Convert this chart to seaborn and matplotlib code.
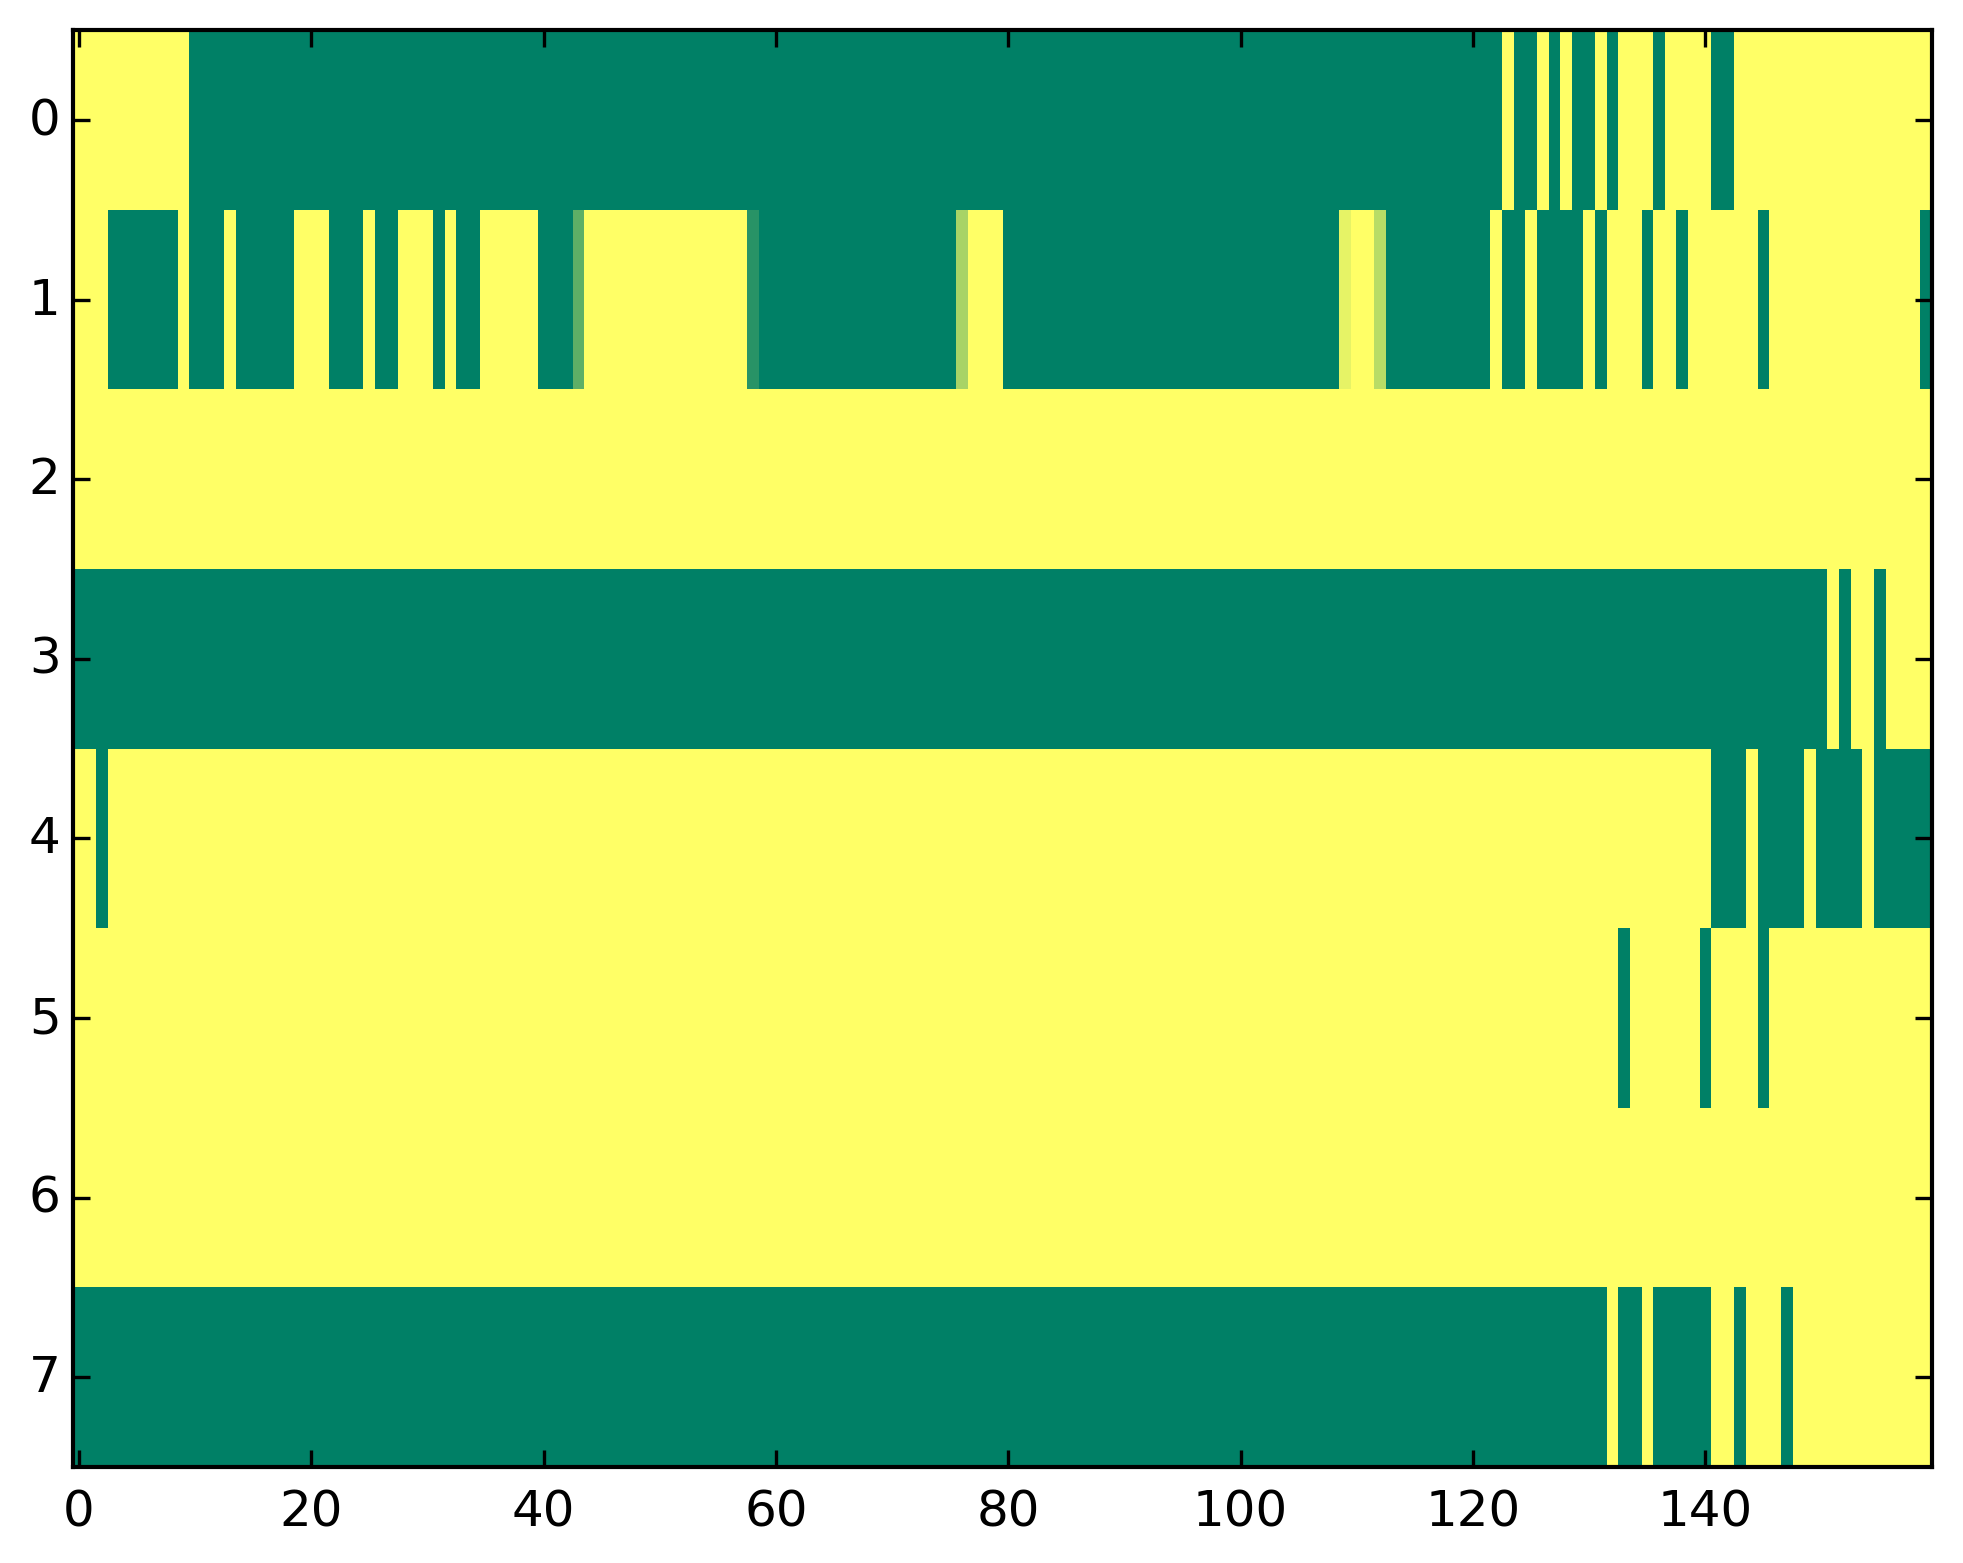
import numpy as np
import pandas as pd
import matplotlib
matplotlib.use("Agg")
import matplotlib.pyplot as plt
import seaborn as sns

# each row is stored as runs of (value, number of columns)
ROW_0 = [(1, 10), (0, 113), (1, 1), (0, 2), (1, 1), (0, 1), (1, 1), (0, 2),
         (1, 1), (0, 1), (1, 3), (0, 1), (1, 4), (0, 2), (1, 17)]
ROW_1 = [(1, 3), (0, 6), (1, 1), (0, 3), (1, 1), (0, 5), (1, 3), (0, 3), (1, 1),
         (0, 2), (1, 3), (0, 1), (1, 1), (0, 2), (1, 5), (0, 3), (0.37, 1),
         (1, 14), (0.16, 1), (0, 17), (0.66, 1), (1, 3), (0, 29), (0.9, 1),
         (1, 2), (0.72, 1), (0, 9), (1, 1), (0, 2), (1, 1), (0, 4), (1, 1),
         (0, 1), (1, 3), (0, 1), (1, 2), (0, 1), (1, 6), (0, 1), (1, 13), (0, 1)]
ROW_2 = [(1, 160)]
ROW_3 = [(0, 151), (1, 1), (0, 1), (1, 2), (0, 1), (1, 4)]
ROW_4 = [(1, 2), (0, 1), (1, 138), (0, 3), (1, 1), (0, 4), (1, 1), (0, 4),
         (1, 1), (0, 5)]
ROW_5 = [(1, 133), (0, 1), (1, 6), (0, 1), (1, 4), (0, 1), (1, 14)]
ROW_6 = [(1, 160)]
ROW_7 = [(0, 132), (1, 1), (0, 2), (1, 1), (0, 5), (1, 2), (0, 1), (1, 3),
         (0, 1), (1, 12)]

ROWS = [ROW_0, ROW_1, ROW_2, ROW_3, ROW_4, ROW_5, ROW_6, ROW_7]
X_TICKS = [0, 20, 40, 60, 80, 100, 120, 140]


def expand(runs):
    vals = [v for v, _ in runs]
    counts = [n for _, n in runs]
    return np.repeat(vals, counts)


def main():
    matrix = pd.DataFrame([expand(r) for r in ROWS])

    plt.rcParams["font.family"] = ["DejaVu Sans"]
    plt.rcParams["font.size"] = 12

    fig = plt.figure(figsize=(1963 / 300, 1564 / 300), dpi=300)
    ax = fig.add_axes([0.0372, 0.0614, 0.9470, 0.9186])

    sns.heatmap(matrix, cmap="summer", vmin=0, vmax=1, cbar=False, ax=ax)

    for spine in ax.spines.values():
        spine.set_visible(True)
        spine.set_linewidth(1.0)
        spine.set_color("black")

    ax.set_xticks([t + 0.5 for t in X_TICKS])
    ax.set_xticklabels([str(t) for t in X_TICKS], rotation=0)
    ax.set_yticks(np.arange(len(ROWS)) + 0.5)
    ax.set_yticklabels([str(i) for i in range(len(ROWS))], rotation=0)
    ax.tick_params(direction="in", top=True, right=True, length=4, width=0.8,
                   labelsize=12, color="black")
    ax.tick_params(axis="x", pad=5)
    ax.tick_params(axis="y", pad=3)

    fig.savefig("out.png", dpi=300, facecolor="white")
    plt.close(fig)


if __name__ == "__main__":
    main()
